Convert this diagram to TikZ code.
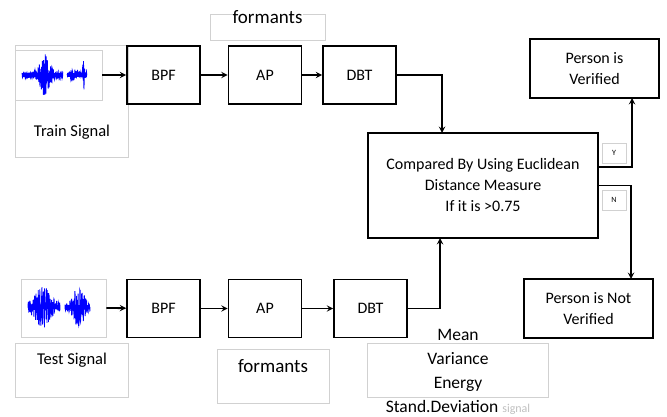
\documentclass[tikz,border=0pt]{standalone}
\usepackage{fontspec}
\setmainfont{Carlito}
\usepackage{tikz}
\tikzstyle{block}=[draw, line width=1.6pt, minimum width=73pt, minimum height=58pt, align=center, font=\fontsize{16}{21}\selectfont]
\tikzstyle{faint}=[draw=black!18, line width=0.6pt]
\tikzset{wave/.style={blue, line width=0.8pt},
  flow/.style={->, >=stealth, line width=1.8pt},
  tag/.style={faint, minimum width=24pt, minimum height=20pt, inner sep=0pt, font=\fontsize{8}{9}\selectfont}}

\begin{document}
\begin{tikzpicture}[x=1pt,y=-1pt]
    \useasboundingbox (0,0) rectangle (667,417);
    % train signal
    \node[faint, minimum width=113pt, minimum height=112pt] (trainframe) at (71.5,101) {};
    \node[faint, minimum width=87pt, minimum height=50pt] (trainimg) at (58.5,75) {};
    \node[font=\fontsize{16.5}{21}\selectfont] (traintxt) at (72,132) {Train Signal};
    \pgfmathsetseed{7}
    \draw[blue, line width=4pt] (22,75) -- (63,75) (67,75) -- (87,75);
    \draw[wave] plot[domain=22:63, samples=200] (\x,{75+(2*rnd-1)*(3+18*exp(-(\x-45)*(\x-45)/40))});
    \draw[wave] plot[domain=67:87, samples=100] (\x,{75+(2*rnd-1)*(3+4*exp(-(\x-73)*(\x-73)/9)+18*exp(-(\x-83.5)*(\x-83.5)/0.7))});
    % test signal
    \node[faint, minimum width=85pt, minimum height=58pt] (testimg) at (63.5,308) {};
    \node[faint, minimum width=113pt, minimum height=54pt] (testframe) at (71.5,370) {};
    \node[font=\fontsize{16.5}{21}\selectfont] (testtxt) at (72,360) {Test Signal};
    \draw[blue, line width=4pt] (28,307) -- (60,307) (65,307) -- (90,307);
    \draw[wave] plot[domain=28:60, samples=180] (\x,{307+(2*rnd-1)*(4+17*exp(-(\x-43)*(\x-43)/90))});
    \draw[wave] plot[domain=65:90, samples=140] (\x,{307+(2*rnd-1)*(4+18*exp(-(\x-79)*(\x-79)/40))});
    % blocks
    \node[block] (bpfA) at (163.5,75) {BPF};
    \node[block] (apA) at (265,75) {AP};
    \node[block] (dbtA) at (359.5,75) {DBT};
    \node[block] (bpfB) at (163.5,308.5) {BPF};
    \node[block] (apB) at (265,308.5) {AP};
    \node[block] (dbtB) at (370.5,308.5) {DBT};
    \node[block, minimum width=230pt, minimum height=105pt] (compare) at (483,185.5) {Compared By Using Euclidean\\Distance Measure\\If it is >0.75};
    \node[block, minimum width=129pt, minimum height=59pt] (yes) at (594.5,68.5) {Person is\\Verified};
    \node[block, minimum width=129pt, minimum height=59pt] (no) at (588.5,308.5) {Person is Not\\Verified};
    % feature labels
    \node[faint, minimum width=115pt, minimum height=26pt] (fmtA) at (267.5,27) {};
    \node[fill=white, inner sep=1pt, font=\fontsize{19}{22}\selectfont] (fmtAtxt) at (267.5,17) {formants};
    \node[faint, minimum width=112pt, minimum height=54pt] (fmtB) at (273,376) {};
    \node[font=\fontsize{19}{22}\selectfont] (fmtBtxt) at (273,366) {formants};
    \node[faint, minimum width=181pt, minimum height=54pt] (stats) at (457.5,370) {};
    \node[align=center, font=\fontsize{17.5}{24}\selectfont] (statstxt) at (458,372) {Mean\\Variance\\Energy\\Stand.Deviation {\color{black!25}\fontsize{12}{14}\selectfont signal}};
    \node[tag] (ytag) at (614,153) {Y};
    \node[tag] (ntag) at (614,200) {N};
    % connectors
    \coordinate (inA) at (442,133);
    \coordinate (inB) at (440,238);
    \coordinate (yin) at (632,98);
    \coordinate (nin) at (631,279);
    \draw[flow] (trainimg.east) -- (bpfA);
    \draw[flow] (bpfA) -- (apA);
    \draw[flow] (apA) -- (dbtA);
    \draw[flow] (testimg.east) -- (bpfB);
    \draw[flow] (bpfB) -- (apB);
    \draw[flow] (apB) -- (dbtB);
    \draw[flow] (dbtA.east) -| (inA);
    \draw[flow] (dbtB.east) -| (inB);
    \draw[flow] ([yshift=18.5pt]compare.east) -| (yin);
    \draw[flow] (compare.east) -| (nin);
\end{tikzpicture}
\end{document}
